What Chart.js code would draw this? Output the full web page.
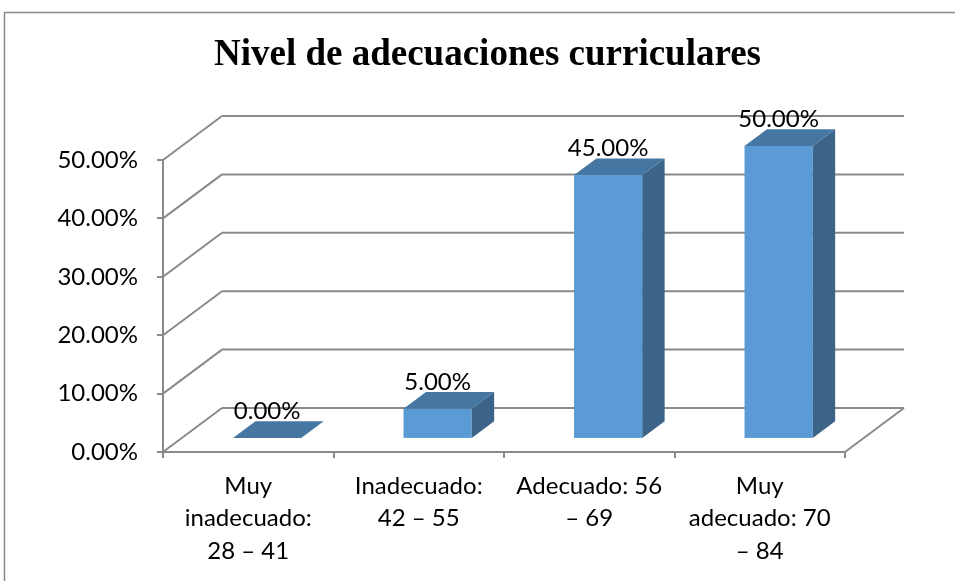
<!DOCTYPE html>
<html>
<head>
<meta charset="utf-8">
<title>Nivel de adecuaciones curriculares</title>
<style>
*{padding:0;margin:0;box-sizing:border-box}
html,body{background:#fff}
.wrapper{width:955px;height:581px;position:relative}
</style>
</head>
<body>
<div class="wrapper">
<canvas id="myChart" width="955" height="581"></canvas>
</div>
<script src="https://cdn.jsdelivr.net/npm/chart.js"></script>
<script>
// data
const chartTitle = 'Nivel de adecuaciones curriculares';
const categories = [
  ['Muy', 'inadecuado:', '28 – 41'],
  ['Inadecuado:', '42 – 55'],
  ['Adecuado: 56', '– 69'],
  ['Muy', 'adecuado: 70', '– 84'],
];
const values = [0, 5, 45, 50];
const yMax = 50;
const yStep = 10;

const lineColor = '#8a8a8a';
const frontColor = '#5b9bd5';
const topColor = '#4677a3';
const sideColor = '#3b6488';
const fontSize = 24;

// 3D depth of the floor/walls, and where the bars sit in it
const depthX = 59;
const depthY = -44;
const barFront = 0.32;
const barBack = 0.70;

const pct = (v) => v.toFixed(2) + '%';

const box3d = {
  id: 'box3d',
  beforeDraw(chart) {
    const ctx = chart.ctx;
    ctx.save();
    ctx.fillStyle = '#fff';
    ctx.fillRect(0, 0, chart.width, chart.height);
    ctx.strokeStyle = '#8a8a8a';
    ctx.lineWidth = 1.5;
    ctx.strokeRect(4.5, 12.5, chart.width + 10, chart.height + 10);

    // title, centred a bit right of the canvas middle like the original
    ctx.fillStyle = '#000';
    ctx.font = 'bold 37px "Liberation Serif"';
    ctx.textAlign = 'center';
    ctx.textBaseline = 'middle';
    ctx.fillText(chartTitle, 487.5, 55);
    ctx.restore();
  },
  beforeDatasetsDraw(chart) {
    const { ctx, chartArea: a, scales: { y } } = chart;
    const line = (x1, y1, x2, y2) => {
      ctx.beginPath();
      ctx.moveTo(x1, y1);
      ctx.lineTo(x2, y2);
      ctx.stroke();
    };
    ctx.save();
    ctx.strokeStyle = lineColor;
    ctx.lineWidth = 2;
    y.ticks.forEach(t => {
      const py = y.getPixelForValue(t.value);
      line(a.left, py, a.left + depthX, py + depthY);
      line(a.left + depthX, py + depthY, a.right + depthX, py + depthY);
    });
    const p0 = y.getPixelForValue(0);
    line(a.right, p0, a.right + depthX, p0 + depthY);
    ctx.restore();
  },
  afterDatasetsDraw(chart) {
    const { ctx, scales: { y } } = chart;
    const meta = chart.getDatasetMeta(0);
    const p0 = y.getPixelForValue(0);
    ctx.save();
    meta.data.forEach((bar, i) => {
      const w = bar.width;
      const xL = bar.x - w / 2 + barFront * depthX;
      const xR = xL + w;
      const yT = y.getPixelForValue(values[i]) + barFront * depthY;
      const yB = p0 + barFront * depthY;
      const sx = (barBack - barFront) * depthX;
      const sy = (barBack - barFront) * depthY;

      if (yB - yT > 0.5) {
        ctx.fillStyle = frontColor;
        ctx.fillRect(xL, yT, w, yB - yT);
        ctx.fillStyle = sideColor;
        ctx.beginPath();
        ctx.moveTo(xR, yT);
        ctx.lineTo(xR, yB);
        ctx.lineTo(xR + sx, yB + sy);
        ctx.lineTo(xR + sx, yT + sy);
        ctx.closePath();
        ctx.fill();
      }
      ctx.fillStyle = topColor;
      ctx.beginPath();
      ctx.moveTo(xL, yT);
      ctx.lineTo(xR, yT);
      ctx.lineTo(xR + sx, yT + sy);
      ctx.lineTo(xL + sx, yT + sy);
      ctx.closePath();
      ctx.fill();

      ctx.fillStyle = '#000';
      ctx.font = fontSize + 'px Lato';
      ctx.textAlign = 'center';
      ctx.textBaseline = 'alphabetic';
      ctx.fillText(pct(values[i]), (xL + xR) / 2, yT + sy - 2);
    });
    ctx.restore();
  },
};

const ctx = document.getElementById('myChart').getContext('2d');
Chart.defaults.font.family = 'Lato';
Chart.defaults.color = '#000';
new Chart(ctx, {
  type: 'bar',
  data: {
    labels: categories,
    datasets: [{
      data: values,
      backgroundColor: 'rgba(0,0,0,0)',
      borderWidth: 0,
      barPercentage: 0.4,
      categoryPercentage: 1,
    }],
  },
  options: {
    responsive: false,
    animation: false,
    layout: {
      padding: { left: 4, right: 110, top: 160, bottom: 0 },
    },
    plugins: {
      legend: { display: false },
      tooltip: { enabled: false },
      title: { display: false },
    },
    scales: {
      x: {
        afterFit: (s) => { s.height = 129; },
        grid: {
          display: true,
          drawOnChartArea: false,
          drawTicks: true,
          tickLength: 6,
          color: lineColor,
          lineWidth: 2,
        },
        border: { display: true, color: lineColor, width: 2 },
        ticks: {
          font: { size: fontSize, lineHeight: 1.35 },
          padding: 12,
          maxRotation: 0,
          autoSkip: false,
        },
      },
      y: {
        min: 0,
        max: yMax,
        afterFit: (s) => { s.width = 159; },
        grid: {
          display: true,
          drawOnChartArea: false,
          drawTicks: true,
          tickLength: 6,
          color: lineColor,
          lineWidth: 2,
        },
        border: { display: true, color: lineColor, width: 2 },
        ticks: {
          stepSize: yStep,
          padding: 19,
          font: { size: fontSize },
          callback: (value) => pct(value),
        },
      },
    },
  },
  plugins: [box3d],
});
</script>
</body>
</html>
